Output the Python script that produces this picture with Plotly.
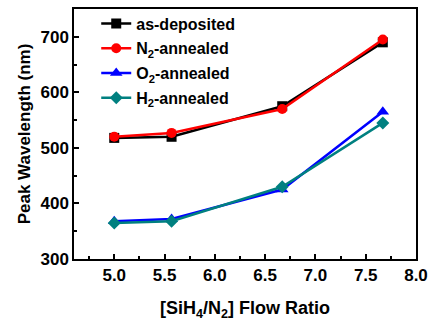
import plotly.graph_objects as go

flow_ratio = [5.0, 5.57, 6.67, 7.67]
as_deposited = [518, 520, 575, 690]
n2_annealed = [520, 527, 570, 695]
o2_annealed = [368, 372, 425, 565]
h2_annealed = [365, 368, 430, 545]

series = [
    ("as-deposited", as_deposited, "#000000", "square"),
    ("N<sub>2</sub>-annealed", n2_annealed, "#ff0000", "circle"),
    ("O<sub>2</sub>-annealed", o2_annealed, "#0000ff", "triangle-up"),
    ("H<sub>2</sub>-annealed", h2_annealed, "#008080", "diamond"),
]

fig = go.Figure()
for i, (name, vals, col, sym) in enumerate(series):
    fig.add_trace(go.Scatter(
        x=flow_ratio, y=vals, name="<b>" + name + "</b>", mode="lines+markers",
        legendgroup="g%d" % i,
        line=dict(color=col, width=2.5),
        marker=dict(symbol=sym, size=10 if sym != "triangle-up" else 11, color=col),
    ))

font = "Liberation Sans, Arial, sans-serif"
xt = [5.0, 5.5, 6.0, 6.5, 7.0, 7.5, 8.0]
yt = [300, 400, 500, 600, 700]
fig.update_layout(
    width=429, height=323,
    margin=dict(l=74, r=13, t=7, b=64),
    paper_bgcolor="white", plot_bgcolor="white",
    font=dict(family=font, size=16, color="black"),
    showlegend=True,
    legend=dict(x=0.065, y=1.01, xanchor="left", yanchor="top",
                bgcolor="rgba(0,0,0,0)", font=dict(size=16, family=font, color="black"),
                itemwidth=30, tracegroupgap=1),
    xaxis=dict(
        range=[4.6, 8.0], tickvals=xt,
        ticktext=["<b>%.1f</b>" % v for v in xt],
        ticks="inside", ticklen=5, tickwidth=1.5, tickcolor="black",
        minor=dict(tickvals=[4.75, 5.25, 5.75, 6.25, 6.75, 7.25, 7.75], ticks="inside", ticklen=3, tickcolor="black"),
        showline=True, linecolor="black", linewidth=1.5, mirror=True,
        showgrid=False, zeroline=False, automargin=False,
        tickfont=dict(size=17),
        title=dict(text="<b>[SiH<sub>4</sub>/N<sub>2</sub>] Flow Ratio</b>", font=dict(size=18), standoff=17),
    ),
    yaxis=dict(
        range=[300, 750], tickvals=yt,
        ticktext=["<b>%d</b>" % v for v in yt],
        ticks="inside", ticklen=5, tickwidth=1.5, tickcolor="black",
        minor=dict(tickvals=[350, 450, 550, 650], ticks="inside", ticklen=3, tickcolor="black"),
        showline=True, linecolor="black", linewidth=1.5, mirror=True,
        showgrid=False, zeroline=False, automargin=False,
        tickfont=dict(size=17),
        title=dict(text="<b>Peak Wavelength (nm)</b>", font=dict(size=17), standoff=6),
    ),
)

fig.write_html("out.html", config={"displayModeBar": False},
               post_script="document.body.style.margin='0';")
